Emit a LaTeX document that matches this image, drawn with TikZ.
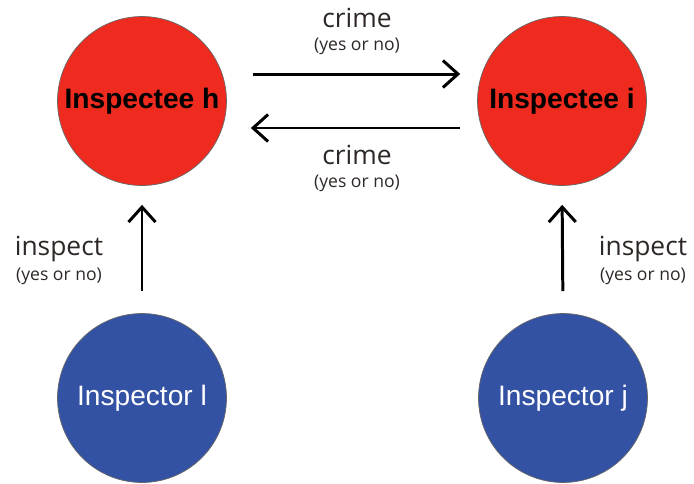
\documentclass[tikz,border=0pt]{standalone}
\usepackage{fontspec}
\setmainfont{Open Sans}
\newfontfamily\arialfont{Liberation Sans}
\usetikzlibrary{positioning,calc,arrows.meta}
\definecolor{inspred}{RGB}{238,43,30}
\definecolor{inspblue}{RGB}{52,82,164}
\definecolor{labelgray}{RGB}{45,40,38}

\begin{document}
\begin{tikzpicture}[x=0.02cm,y=-0.02cm,
    inspectee/.style={circle,draw=black!60,line width=0.4pt,fill=inspred,minimum size=3.38cm,inner sep=0pt,font=\arialfont\bfseries\fontsize{16}{19}\selectfont},
    inspector/.style={circle,draw=black!60,line width=0.4pt,fill=inspblue,text=white,minimum size=3.38cm,inner sep=0pt,font=\arialfont\fontsize{16}{19}\selectfont},
    arr/.style={-{Straight Barb[length=3mm,width=5.4mm]},line width=1.7pt},
    biglabel/.style={text=labelgray,anchor=base,font=\fontsize{15}{17}\selectfont},
    smalllabel/.style={text=labelgray,anchor=base,font=\fontsize{10}{12}\selectfont}]
    \useasboundingbox (0,0) rectangle (694,484);

    % Players
    \node[inspectee] (h) at (142,101) {Inspectee h};
    \node[inspectee] (i) at (562,101) {Inspectee i};
    \node[inspector] (l) at (142,398) {Inspector l};
    \node[inspector] (j) at (563,398) {Inspector j};

    % Crime choices
    \draw[arr, shorten <=0.52cm, shorten >=0.34cm] ([yshift=0.54cm]h.east) -- ([yshift=0.54cm]i.west);
    \draw[arr, shorten <=0.34cm, shorten >=0.48cm] ([yshift=-0.54cm]i.west) -- ([yshift=-0.54cm]h.east);
    \node[biglabel] (c1) at (357,27) {crime};
    \node[smalllabel] (c1yn) at (357,50) {(yes or no)};
    \node[biglabel] (c2) at (357,164) {crime};
    \node[smalllabel] (c2yn) at (357,187) {(yes or no)};

    % Inspection choices
    \draw[arr, shorten <=0.44cm, shorten >=0.38cm] (l.north) -- (h.south);
    \draw[arr, shorten <=0.44cm, shorten >=0.38cm] (j.north) -- (i.south);
    \node[biglabel] (p1) at (59,255) {inspect};
    \node[smalllabel] (p1yn) at (59,280) {(yes or no)};
    \node[biglabel] (p2) at (643,255) {inspect};
    \node[smalllabel] (p2yn) at (643,280) {(yes or no)};
\end{tikzpicture}
\end{document}
